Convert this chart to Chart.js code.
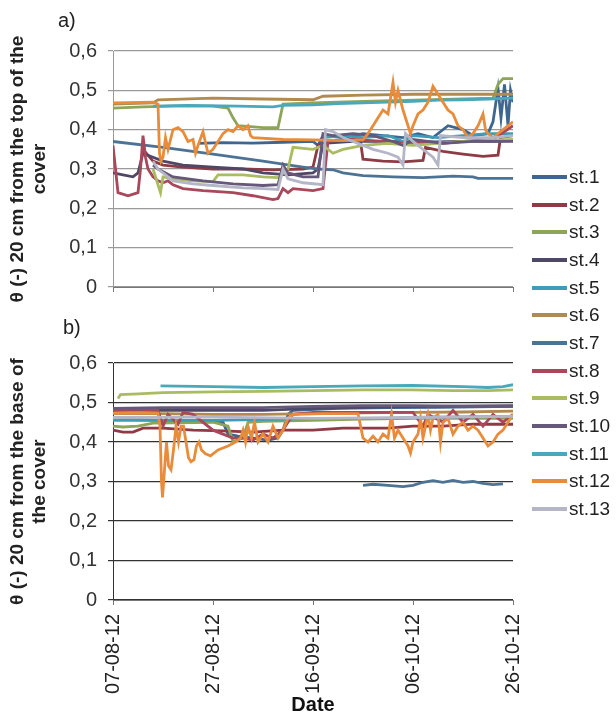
<!DOCTYPE html>
<html>
<head>
<meta charset="utf-8">
<script src="https://cdn.jsdelivr.net/npm/chart.js@4.4.1/dist/chart.umd.min.js"></script>
<style>
  body { margin: 0; background: #fff; font-family: "Liberation Sans", Arial, sans-serif; }
  #wrap { position: relative; width: 616px; height: 726px; overflow: hidden; }
  canvas { position: absolute; left: 0; }
  .panel { position: absolute; font-size: 20px; color: #222; }
  #legend { position: absolute; left: 532px; top: 163px; }
  .item { height: 27.7px; display: flex; align-items: center; font-size: 19px; color: #222; }
  .sw { width: 35px; height: 4px; margin-right: 2px; }
</style>
</head>
<body>
<div id="wrap">
  <canvas id="graficoTopo" width="525" height="322" style="top:0"></canvas>
  <canvas id="graficoBase" width="546" height="416" style="top:310px"></canvas>
  <div class="panel" style="left:58px;top:9px">a)</div>
  <div class="panel" style="left:63px;top:316px">b)</div>
  <div id="legend"></div>
</div>
<script>
// eixo x: dias desde 07-08-12
const dateLabels = ['07-08-12', '27-08-12', '16-09-12', '06-10-12', '26-10-12'];
const yTickLabels = ['0', '0,1', '0,2', '0,3', '0,4', '0,5', '0,6'];
const seriesNames = ['st.1', 'st.2', 'st.3', 'st.4', 'st.5', 'st.6', 'st.7', 'st.8', 'st.9', 'st.10', 'st.11', 'st.12', 'st.13'];
const seriesColors = ['#3d6690', '#8f3a44', '#8ca558', '#4f4766', '#3e9db6', '#b08a4e', '#4d7394',
  '#a8485a', '#a9bc62', '#65587a', '#49a8ba', '#e88c3c', '#b4b6c8'];

// a) 20 cm from the top of the cover  -> [day, theta]
const topSt1 = [[17,0.365],[22,0.367],[28,0.366],[34,0.368],[40,0.37],[41,0.36],[42,0.385],[46,0.38],[50,0.39],[54,0.385],[58,0.38],[61,0.39],[64,0.38],[67,0.41],[70,0.40],[72,0.385],[75,0.39],[76,0.42],[77,0.505],[77.6,0.43],[78.3,0.515],[79,0.41],[79.5,0.50],[80,0.47]];
const topSt2 = [[6,0.35],[8,0.32],[10,0.31],[14,0.305],[20,0.30],[26,0.30],[32,0.298],[38,0.30],[40,0.305],[41,0.36],[44,0.372],[48,0.375],[49.5,0.37],[50,0.325],[54,0.32],[58,0.318],[62,0.322],[62.5,0.355],[66,0.345],[70,0.338],[74,0.332],[77,0.335],[77.5,0.38],[80,0.385]];
const topSt3 = [[0,0.455],[6,0.458],[12,0.46],[20,0.46],[23,0.455],[24,0.43],[25,0.41],[30,0.405],[33,0.405],[34,0.465],[40,0.468],[50,0.472],[60,0.475],[70,0.478],[76,0.48],[77,0.515],[78,0.53],[80,0.53]];
const topSt4 = [[0,0.29],[2,0.285],[4,0.28],[5,0.29],[6,0.34],[8,0.33],[10,0.32],[14,0.31],[20,0.305],[26,0.30],[30,0.29],[35,0.285],[40,0.29],[41,0.30],[42,0.365],[48,0.37],[55,0.37],[62,0.368],[70,0.37],[76,0.37],[80,0.372]];
const topSt5 = [[42,0.38],[46,0.385],[50,0.38],[55,0.385],[58,0.37],[60,0.385],[65,0.38],[70,0.385],[75,0.39],[80,0.39]];
const topSt6 = [[0,0.465],[8,0.468],[9,0.476],[20,0.48],[30,0.478],[40,0.476],[42,0.485],[50,0.488],[60,0.49],[70,0.49],[80,0.49]];
const topSt7 = [[0,0.37],[10,0.355],[20,0.338],[30,0.32],[38,0.305],[41,0.30],[44,0.298],[46,0.29],[50,0.283],[56,0.28],[62,0.278],[68,0.282],[72,0.28],[73,0.276],[80,0.276]];
const topSt8 = [[0,0.36],[0.5,0.30],[1,0.24],[3,0.232],[5,0.24],[5.5,0.30],[6,0.385],[6.5,0.33],[7,0.30],[8,0.28],[9,0.27],[10,0.265],[11,0.27],[12,0.26],[14,0.25],[18,0.245],[24,0.24],[28,0.232],[32,0.222],[33,0.225],[34,0.25],[35,0.24],[36,0.25],[40,0.245],[42,0.25],[43,0.37],[48,0.375],[54,0.37],[58,0.365],[62,0.37],[66,0.365],[70,0.37],[76,0.375],[80,0.41]];
const topSt9 = [[8,0.30],[9,0.26],[9.5,0.24],[10,0.28],[12,0.275],[16,0.27],[20,0.268],[21,0.285],[26,0.285],[30,0.28],[33,0.278],[35,0.30],[36,0.355],[40,0.35],[42,0.36],[44,0.34],[46,0.35],[50,0.36],[55,0.365],[60,0.36],[70,0.37],[80,0.375]];
const topSt10 = [[8,0.31],[9,0.30],[12,0.28],[18,0.27],[24,0.262],[30,0.258],[33,0.26],[34,0.31],[35,0.29],[38,0.28],[41,0.28],[42,0.39],[44,0.385],[48,0.39],[52,0.385],[56,0.37],[58,0.36],[60,0.375],[66,0.365],[72,0.37],[80,0.37]];
const topSt11 = [[8,0.46],[15,0.462],[25,0.46],[32,0.458],[34,0.462],[40,0.463],[45,0.466],[50,0.468],[55,0.47],[60,0.472],[65,0.475],[70,0.476],[75,0.478],[80,0.48]];
const topSt12 = [[0,0.468],[8,0.47],[9,0.465],[9.3,0.34],[9.6,0.32],[10,0.33],[10.5,0.38],[11,0.35],[12,0.40],[13,0.405],[14,0.395],[15,0.37],[16,0.375],[16.5,0.34],[17,0.36],[18,0.395],[19,0.34],[20,0.35],[21,0.37],[22,0.39],[23,0.40],[24,0.395],[25,0.41],[26,0.40],[27,0.41],[27.5,0.385],[28,0.38],[34,0.375],[40,0.374],[46,0.372],[50,0.374],[51,0.39],[52,0.41],[53,0.43],[54,0.45],[55,0.44],[56,0.52],[56.5,0.47],[57,0.50],[58,0.45],[59,0.41],[59.5,0.39],[60,0.41],[61,0.44],[62,0.45],[63,0.47],[64,0.51],[65,0.49],[66,0.47],[67,0.45],[68,0.44],[69,0.41],[70,0.40],[71,0.38],[72,0.39],[73,0.41],[74,0.44],[74.5,0.40],[75,0.39],[76,0.38],[78,0.40],[80,0.42]];
const topSt13 = [[8,0.32],[9,0.30],[10,0.29],[12,0.27],[16,0.262],[20,0.258],[26,0.252],[30,0.25],[33,0.248],[34,0.30],[35,0.275],[38,0.265],[42,0.26],[42.5,0.40],[44,0.395],[46,0.38],[48,0.37],[50,0.36],[52,0.35],[55,0.34],[57,0.33],[58,0.31],[58.5,0.39],[60,0.37],[62,0.35],[64,0.33],[65,0.31],[65.5,0.385],[70,0.38],[76,0.38],[80,0.385]];

// b) 20 cm from the base of the cover
const baseSt1 = [[0,0.458],[10,0.455],[20,0.455],[22,0.45],[23,0.42],[25,0.415],[28,0.41],[31,0.405],[33,0.41],[34,0.43],[35,0.47],[36,0.48],[45,0.485],[55,0.487],[65,0.488],[80,0.49]];
const baseSt2 = [[0,0.43],[2,0.425],[4,0.425],[6,0.435],[10,0.435],[16,0.43],[22,0.428],[28,0.425],[34,0.43],[40,0.43],[46,0.435],[55,0.435],[60,0.44],[66,0.44],[72,0.445],[80,0.445]];
const baseSt3 = [[0,0.44],[2,0.438],[5,0.44],[8,0.448],[20,0.45],[23,0.44],[24,0.40],[26,0.41],[27,0.45],[30,0.452],[40,0.455],[50,0.458],[60,0.46],[70,0.46],[80,0.46]];
const baseSt4 = [[0,0.48],[10,0.48],[30,0.48],[40,0.485],[60,0.49],[80,0.492]];
const baseSt5 = [[0,0.455],[20,0.455],[35,0.458],[40,0.46],[55,0.46],[60,0.462],[80,0.465]];
const baseSt6 = [[0,0.472],[10,0.472],[20,0.47],[30,0.47],[40,0.472],[50,0.474],[60,0.475],[70,0.476],[80,0.478]];
const baseSt7 = [[50,0.29],[52,0.293],[55,0.29],[58,0.287],[60,0.29],[62,0.298],[64,0.302],[66,0.298],[68,0.303],[70,0.298],[72,0.30],[74,0.295],[76,0.292],[78,0.294]];
const baseSt8 = [[0,0.48],[5,0.483],[9,0.48],[10,0.44],[11,0.47],[13,0.445],[14,0.475],[16,0.47],[20,0.43],[22,0.42],[24,0.41],[26,0.41],[28,0.405],[30,0.42],[32,0.41],[34,0.43],[36,0.47],[40,0.475],[50,0.475],[60,0.475],[62,0.44],[63,0.47],[66,0.45],[68,0.48],[70,0.45],[72,0.47],[74,0.44],[76,0.47],[78,0.45],[80,0.47]];
const baseSt9 = [[1,0.51],[1.5,0.52],[5,0.522],[10,0.525],[20,0.527],[30,0.528],[40,0.53],[50,0.532],[60,0.532],[68,0.53],[75,0.53],[80,0.532]];
const baseSt10 = [[0,0.485],[10,0.487],[20,0.487],[30,0.487],[40,0.49],[50,0.492],[60,0.492],[70,0.49],[80,0.49]];
const baseSt11 = [[9.5,0.542],[20,0.54],[30,0.538],[40,0.54],[50,0.542],[60,0.543],[70,0.54],[75,0.538],[78,0.54],[80,0.545]];
const baseSt12 = [[0,0.473],[5,0.474],[9,0.473],[9.4,0.44],[9.7,0.30],[9.9,0.26],[10.3,0.33],[10.7,0.40],[11.1,0.34],[11.6,0.33],[12.1,0.38],[12.6,0.44],[13.1,0.40],[13.6,0.44],[14.1,0.44],[14.6,0.40],[15.1,0.36],[15.6,0.35],[16.2,0.355],[16.7,0.39],[17.2,0.40],[17.7,0.38],[18.5,0.37],[19.5,0.365],[21,0.38],[23,0.39],[24.5,0.40],[25.5,0.41],[26,0.43],[26.5,0.40],[27,0.44],[27.7,0.41],[28.3,0.45],[29,0.40],[30,0.42],[31,0.40],[32,0.44],[33,0.41],[34,0.43],[35,0.46],[36,0.47],[42,0.472],[49,0.472],[50,0.41],[51,0.40],[52,0.415],[53,0.40],[54,0.42],[55,0.41],[55.7,0.47],[56.3,0.41],[57,0.43],[58,0.41],[59,0.39],[59.5,0.372],[60,0.40],[61,0.42],[61.5,0.46],[62,0.41],[63,0.47],[63.5,0.43],[64,0.46],[65,0.47],[65.5,0.40],[66,0.45],[67,0.46],[68,0.42],[69,0.44],[70,0.45],[71,0.43],[72,0.44],[73,0.43],[74,0.41],[75,0.39],[76,0.40],[77,0.42],[78,0.43],[79,0.45],[80,0.47]];
const baseSt13 = [[0,0.462],[20,0.463],[40,0.46],[60,0.462],[80,0.465]];

const topSeries = [topSt1, topSt2, topSt3, topSt4, topSt5, topSt6, topSt7, topSt8, topSt9, topSt10, topSt11, topSt12, topSt13];
const baseSeries = [baseSt1, baseSt2, baseSt3, baseSt4, baseSt5, baseSt6, baseSt7, baseSt8, baseSt9, baseSt10, baseSt11, baseSt12, baseSt13];

const fonte = '"Liberation Sans", Arial, sans-serif';

function montarDatasets(series) {
  // Excel desenha st.1 primeiro, st.13 por cima
  return series.map(function (pares, i) {
    return {
      label: seriesNames[i],
      data: pares.map(p => ({ x: p[0], y: p[1] })),
      borderColor: seriesColors[i],
      borderWidth: 2.8,
      pointRadius: 0,
      tension: 0,
      order: seriesNames.length - i
    };
  });
}

function criarGrafico(id, series, tituloY, mostrarDatas, padding, corGrade) {
  var ctx = document.getElementById(id).getContext('2d');
  return new Chart(ctx, {
    type: 'line',
    data: { datasets: montarDatasets(series) },
    options: {
      responsive: false,
      animation: false,
      layout: { padding: padding },
      plugins: { legend: { display: false }, tooltip: { enabled: false } },
      scales: {
        x: {
          type: 'linear',
          min: 0,
          max: 80,
          afterFit: function (scale) { scale.height = mostrarDatas ? 126 : 6; },
          ticks: {
            display: mostrarDatas,
            stepSize: 20,
            autoSkip: false,
            minRotation: 90,
            maxRotation: 90,
            padding: 9,
            color: '#222',
            font: { family: fonte, size: 20 },
            callback: (v, i) => dateLabels[i]
          },
          grid: { drawOnChartArea: false, drawTicks: true, tickLength: 5, color: '#777' },
          border: { color: '#777' },
          title: {
            display: mostrarDatas,
            text: 'Date',
            color: '#111',
            font: { family: fonte, size: 20, weight: 'bold' },
            padding: { top: 0, bottom: 9 }
          }
        },
        y: {
          min: 0,
          max: 0.6,
          afterFit: function (scale) { scale.width = 113; },
          ticks: {
            stepSize: 0.1,
            padding: 11,
            color: '#333',
            font: { family: fonte, size: 20 },
            callback: (v, i) => yTickLabels[i]
          },
          grid: { color: corGrade, tickLength: 5, lineWidth: 1.2 },
          border: { color: corGrade(null, true) },
          title: {
            display: true,
            text: tituloY,
            color: '#222',
            font: { family: fonte, size: 19, weight: 'bold', lineHeight: 1.2 },
            padding: { top: 6, bottom: 0 }
          }
        }
      }
    }
  });
}

// linhas de grade: a 0,6 do topo e 0/0,1/0,2 da base aparecem mais escuras
criarGrafico('graficoTopo', topSeries, ['θ (-) 20 cm from the top of the', 'cover'], false,
  { top: 51, left: 0, right: 12, bottom: 29 },
  function (c, borda) {
    if (borda) return '#999';
    return c.index === 6 ? '#555' : '#8c8c8c';
  });

// o rotulo 26-10-12 reserva ~33px a direita, por isso o canvas e mais largo
criarGrafico('graficoBase', baseSeries, ['θ (-) 20 cm from the base of', 'the cover'], true,
  { top: 53, left: 0, right: 12, bottom: 0 },
  function (c, borda) {
    if (borda) return '#333';
    return c.index <= 2 ? '#2a2a2a' : '#8c8c8c';
  });

// legenda comum aos dois graficos
var legenda = document.getElementById('legend');
seriesNames.forEach(function (nome, i) {
  var item = document.createElement('div');
  item.className = 'item';
  item.innerHTML = '<span class="sw" style="background:' + seriesColors[i] + '"></span>' + nome;
  legenda.appendChild(item);
});
</script>
</body>
</html>
